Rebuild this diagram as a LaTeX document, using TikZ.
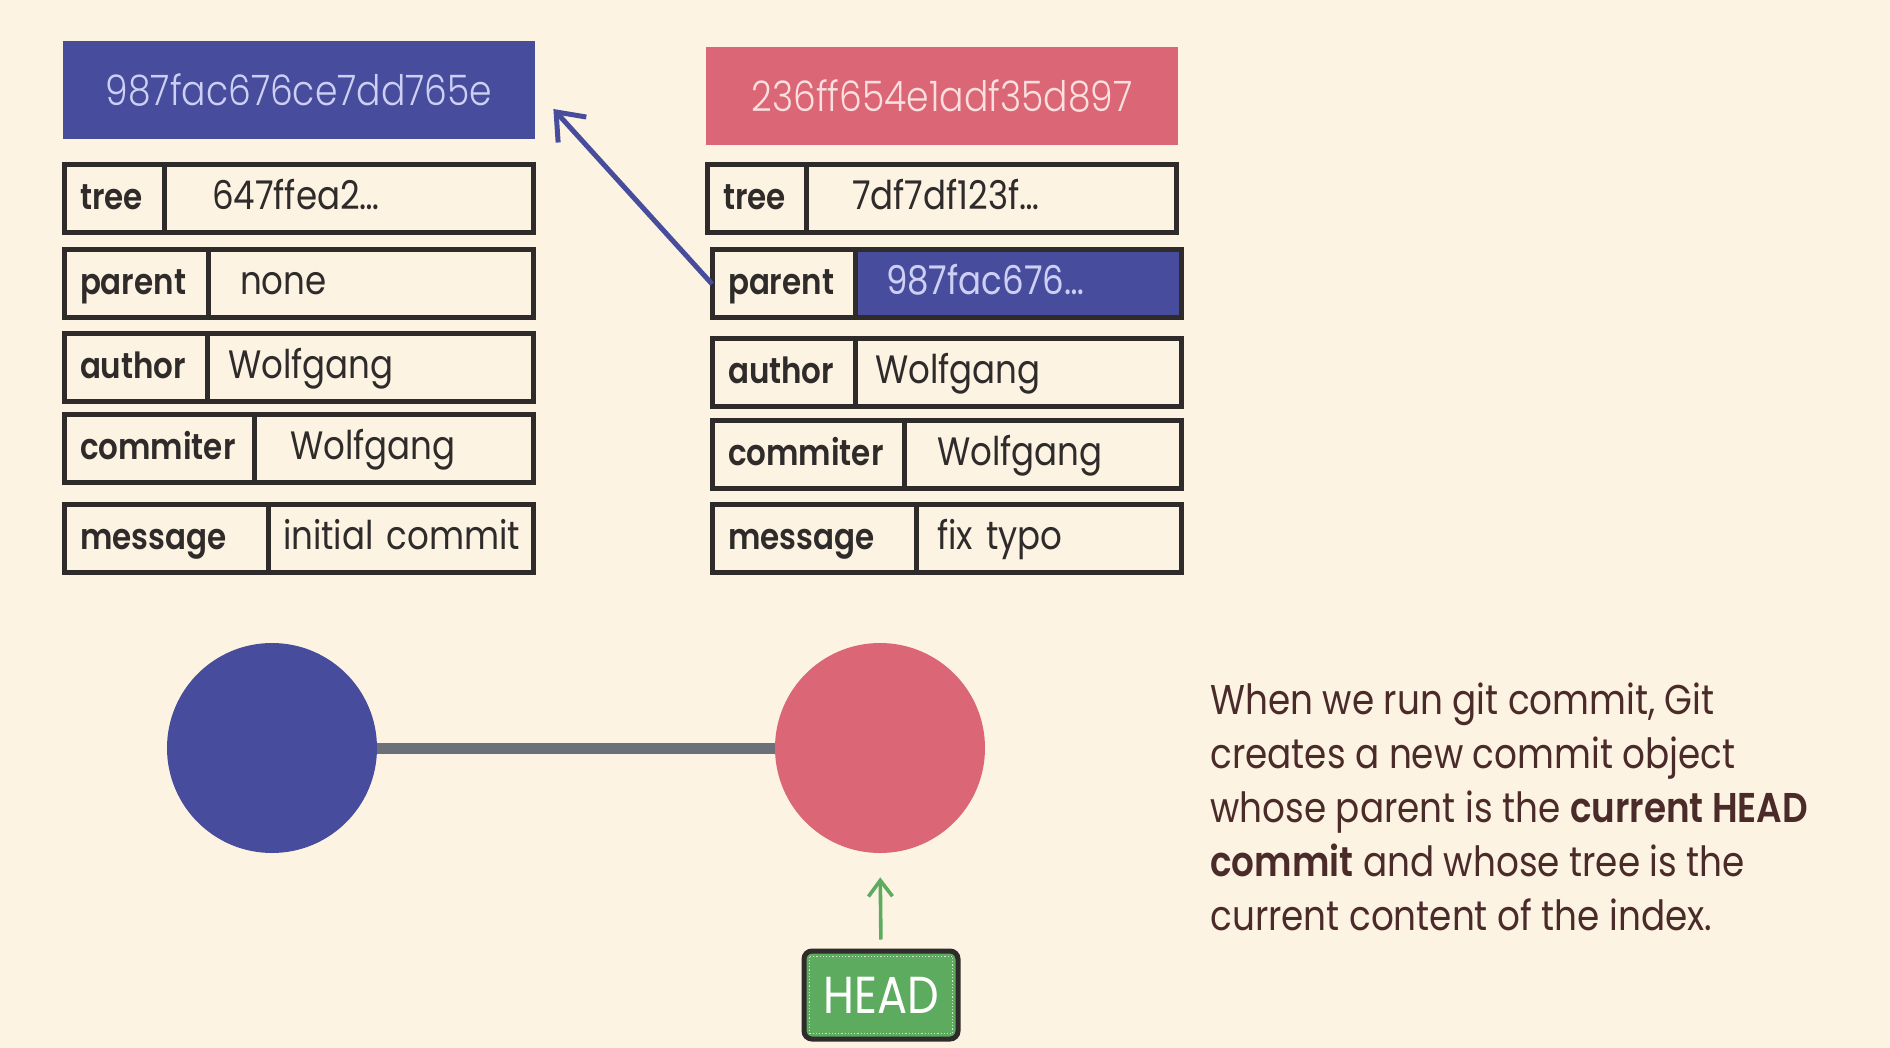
\documentclass[tikz,border=0pt]{standalone}
\usepackage{fontspec}
\setmainfont{Poppins}[FakeStretch=0.86, BoldFont={Poppins SemiBold}]
\newfontfamily\hashfont{Poppins Light}[FakeStretch=0.86]
\usetikzlibrary{arrows.meta, positioning}
\definecolor{bgcream}{HTML}{FCF3E2}
\definecolor{commitblue}{HTML}{474C9C}
\definecolor{commitred}{HTML}{DB6675}
\definecolor{boxdark}{HTML}{2E2B2A}
\definecolor{lavender}{HTML}{CDD0F4}
\definecolor{blush}{HTML}{FBE0DF}
\definecolor{linkgray}{HTML}{6C7079}
\definecolor{headgreen}{HTML}{5DAB5E}
\definecolor{notebrown}{HTML}{4B2A2A}

\tikzset{
  hashbox/.style={minimum width=236pt, minimum height=49pt, inner sep=0pt,
    font=\hashfont\fontsize{21}{24}\selectfont},
  fieldkey/.style={draw=boxdark, line width=2.5pt, minimum height=34pt,
    inner ysep=0pt, inner xsep=8pt, outer sep=0pt, anchor=west, align=left,
    text height=14.5pt, text depth=3.5pt,
    text=boxdark, font=\fontsize{18}{20}\selectfont\bfseries},
  fieldval/.style={draw=boxdark, line width=2.5pt, minimum height=34pt,
    inner ysep=0pt, outer sep=0pt, align=left, text=boxdark,
    text height=14.5pt, text depth=3.5pt,
    font=\fontsize{19.8}{22}\selectfont},
  fieldhl/.style={fieldval, fill=commitblue, text=lavender},
  commitdot/.style={circle, minimum size=105pt, inner sep=0pt},
}

\begin{document}
\begin{tikzpicture}[x=1pt, y=-1pt]
  \useasboundingbox[fill=bgcream] (0,0) rectangle (945,524);
  % commit objects
  \node[hashbox, fill=commitblue, text=lavender] (hashA) at (149.5,45.25) {987fac676ce7dd765e};
  \node[hashbox, fill=commitred, text=blush] (hashB) at (471,48) {236ff654e1adf35d897};
  \foreach \nm/\fx/\fy/\lw/\gap/\lab/\val/\vst in {
    A-tree/32/99.5/50/24/tree/647ffea2…/fieldval,
    A-parent/32/142/72/16/parent/none/fieldval,
    A-author/32/183.75/71.5/10.5/author/Wolfgang/fieldval,
    A-commiter/32/224.25/95/18/commiter/Wolfgang/fieldval,
    A-message/32/269.25/102/7.5/message/initial commit/fieldval,
    B-tree/353.5/99.5/49.5/23/tree/7df7df123f…/fieldval,
    B-parent/356/142/71.5/15.5/parent/987fac676…/fieldhl,
    B-author/356/186.25/71.5/10/author/Wolfgang/fieldval,
    B-commiter/356/227/96/16.5/commiter/Wolfgang/fieldval,
    B-message/356/269.25/102/10.5/message/fix typo/fieldval}{
    \pgfmathsetmacro\kw{\lw-16}
    \pgfmathsetmacro\vw{234.5-\lw-2*\gap}
    \node[fieldkey, text width=\kw pt] (\nm-key) at (\fx,\fy) {\mbox{\lab}};
    \node[\vst, text width=\vw pt, inner xsep=\gap pt, anchor=west] (\nm-val) at (\nm-key.east) {\mbox{\val}};
  }
  \draw[commitblue, line width=2.5pt, -{Straight Barb[length=12pt, width=19pt, line width=2.5pt]}]
    (B-parent-key.west) -- ([xshift=9pt, yshift=-9.25pt]hashA.east);
  % history
  \node[commitdot, fill=commitblue] (dotA) at (136,374) {};
  \node[commitdot, fill=commitred] (dotB) at (440,374) {};
  \draw[linkgray, line width=5.5pt] (dotA.east) -- (dotB.west);
  \node[draw=boxdark, line width=2.5pt, fill=headgreen, rounded corners=4pt,
    minimum width=77pt, minimum height=44pt, inner sep=0pt, text=white,
    font=\fontsize{26}{28}\selectfont] (head) at (440.5,497.5) {HEAD};
  \draw[white!70!headgreen, densely dotted, line width=0.6pt]
    ([shift={(4pt,-4pt)}]head.north west) rectangle ([shift={(-4pt,4pt)}]head.south east);
  \draw[headgreen, line width=1.8pt, -{Straight Barb[length=8pt, width=12pt, line width=1.8pt]},
    shorten <=4.5pt, shorten >=12pt] (head.north) -- (dotB.south);
  % note
  \node[anchor=north west, inner sep=0pt, align=left, text=notebrown,
    font=\fontsize{20.8}{27}\selectfont] (note) at (605,341)
    {When we run git commit, Git\\creates a new commit object\\whose parent is the \textbf{current HEAD}\\\textbf{commit} and whose tree is the\\current content of the index.};
\end{tikzpicture}
\end{document}
